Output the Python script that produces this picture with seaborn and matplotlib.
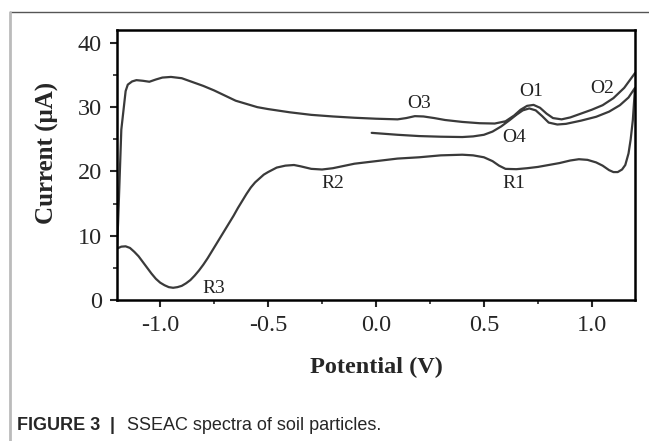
import pandas as pd
import seaborn as sns
import matplotlib.pyplot as plt
from matplotlib.lines import Line2D
from matplotlib.ticker import MultipleLocator

# forward scan starting near 0 V (O4 / O1 / O2 branch)
fwd1_v = [-0.02, 0.1, 0.2, 0.3, 0.4, 0.45, 0.5, 0.54, 0.58, 0.62, 0.65, 0.68, 0.71, 0.74,
          0.77, 0.8, 0.84, 0.88, 0.95, 1.02, 1.08, 1.13, 1.17, 1.2]
fwd1_i = [26.0, 25.7, 25.5, 25.4, 25.35, 25.45, 25.7, 26.2, 27.0, 28.0, 28.8, 29.5, 29.8, 29.5,
          28.6, 27.6, 27.3, 27.4, 27.9, 28.5, 29.3, 30.3, 31.5, 33.0]

# reverse scan 1.2 -> -1.2 V (R1 / R2 / R3)
rev_v = [1.2, 1.195, 1.19, 1.18, 1.17, 1.155, 1.14, 1.12, 1.1, 1.08, 1.05, 1.02, 0.98, 0.94,
         0.9, 0.85, 0.8, 0.75, 0.7, 0.65, 0.6, 0.57, 0.54, 0.5, 0.45, 0.4, 0.3, 0.2, 0.1, 0.0,
         -0.1, -0.2, -0.25, -0.3, -0.35, -0.38, -0.42, -0.46, -0.5, -0.52, -0.54, -0.56, -0.58,
         -0.6, -0.62, -0.64, -0.66, -0.68, -0.7, -0.72, -0.74, -0.76, -0.78, -0.8, -0.82, -0.84,
         -0.86, -0.88, -0.9, -0.92, -0.94, -0.96, -0.98, -1.0, -1.02, -1.04, -1.06, -1.08, -1.1,
         -1.12, -1.14, -1.16, -1.18, -1.2]
rev_i = [33.0, 30.5, 28.0, 25.0, 22.8, 21.0, 20.3, 19.9, 19.9, 20.2, 20.9, 21.4, 21.8, 21.9,
         21.7, 21.3, 21.0, 20.7, 20.5, 20.35, 20.4, 20.9, 21.6, 22.2, 22.5, 22.6, 22.5, 22.2, 22.0, 21.6,
         21.2, 20.5, 20.3, 20.4, 20.8, 21.0, 20.9, 20.6, 19.9, 19.5, 18.9, 18.3, 17.5,
         16.5, 15.4, 14.3, 13.1, 12.0, 10.9, 9.8, 8.7, 7.6, 6.5, 5.5, 4.6, 3.8,
         3.1, 2.6, 2.2, 2.0, 1.9, 2.0, 2.3, 2.7, 3.3, 4.1, 5.0, 5.9, 6.8,
         7.5, 8.1, 8.35, 8.3, 8.0]

# forward scan -1.2 -> 1.2 V (O3 / O1 / O2 branch)
fwd2_v = [-1.2, -1.195, -1.19, -1.185, -1.18, -1.17, -1.16, -1.15, -1.13, -1.11, -1.08, -1.05,
          -1.02, -0.99, -0.95, -0.9, -0.85, -0.8, -0.75, -0.7, -0.65, -0.6, -0.55, -0.5, -0.45,
          -0.4, -0.3, -0.2, -0.1, 0.0, 0.1, 0.14, 0.18, 0.22, 0.27, 0.32, 0.4, 0.48, 0.55, 0.6,
          0.64, 0.67, 0.7, 0.73, 0.76, 0.79, 0.82, 0.86, 0.9, 0.95, 1.0, 1.05, 1.1, 1.15, 1.2]
fwd2_i = [8.0, 12.0, 17.0, 22.0, 26.5, 29.5, 32.5, 33.5, 34.0, 34.2, 34.1, 33.95,
          34.3, 34.6, 34.7, 34.5, 33.9, 33.3, 32.6, 31.8, 31.0, 30.5, 30.0, 29.7, 29.45,
          29.2, 28.8, 28.55, 28.35, 28.2, 28.1, 28.3, 28.6, 28.55, 28.3, 28.0, 27.7, 27.5, 27.45, 27.8,
          28.7, 29.6, 30.2, 30.35, 29.9, 29.0, 28.3, 28.1, 28.4, 29.0, 29.6, 30.3, 31.4, 33.0, 35.3]

peak_names = ['O1', 'O2', 'O3', 'O4', 'R1', 'R2', 'R3']
peak_v = [0.72, 1.05, 0.2, 0.64, 0.64, -0.2, -0.75]
peak_i = [32.4, 32.9, 30.6, 25.2, 18.1, 18.1, 1.8]

df = pd.DataFrame({'potential': fwd1_v + rev_v + fwd2_v,
                   'current': fwd1_i + rev_i + fwd2_i})

sns.set_style('ticks')
plt.rcParams['font.family'] = ['Liberation Serif', 'DejaVu Serif']

fig = plt.figure(figsize=(6.49, 4.41), dpi=100)
ax = fig.add_axes([117 / 649, 141 / 441, 518 / 649, 270 / 441])

sns.lineplot(data=df, x='potential', y='current', sort=False, estimator=None,
             color='#3a3a3a', linewidth=1.6, ax=ax)

for name, v, i in zip(peak_names, peak_v, peak_i):
    ax.text(v, i, name, ha='center', va='center', fontsize=14, color='#222222')

ax.set_xlim(-1.2, 1.2)
ax.set_ylim(0, 42)
ax.set_xticks([-1.0, -0.5, 0.0, 0.5, 1.0])
ax.set_xticklabels(['-1.0', '-0.5', '0.0', '0.5', '1.0'])
ax.set_yticks([0, 10, 20, 30, 40])
ax.xaxis.set_minor_locator(MultipleLocator(0.25))
ax.yaxis.set_minor_locator(MultipleLocator(5))
ax.tick_params(which='major', direction='out', length=5, width=1.5, labelsize=17.5, pad=6)
ax.tick_params(which='minor', direction='out', length=3, width=1.2)
for s in ax.spines.values():
    s.set_linewidth(1.8)
    s.set_color('black')

ax.set_xlabel('Potential (V)', fontsize=17.5, fontweight='bold', va='center')
ax.set_ylabel('Current (μA)', fontsize=18, fontweight='bold', va='center')
ax.xaxis.set_label_coords(0.5, -0.248)
ax.yaxis.set_label_coords(-0.135, 0.544)

# page frame lines and caption
fig.add_artist(Line2D([10 / 649, 1], [1 - 12 / 441] * 2, color='#555555', lw=1))
fig.add_artist(Line2D([10 / 649] * 2, [0, 1 - 12 / 441], color='#bbbbbb', lw=2))
cap_y = 1 - 425 / 441
fig.text(17 / 649, cap_y, 'FIGURE 3', fontsize=13, fontweight='bold', va='center',
         family='Liberation Sans')
fig.text(110 / 649, cap_y, '|', fontsize=13, fontweight='bold', va='center',
         family='Liberation Sans')
fig.text(127 / 649, cap_y, 'SSEAC spectra of soil particles.', fontsize=13, va='center',
         family='Liberation Sans')

fig.savefig('out.png', dpi=100)
